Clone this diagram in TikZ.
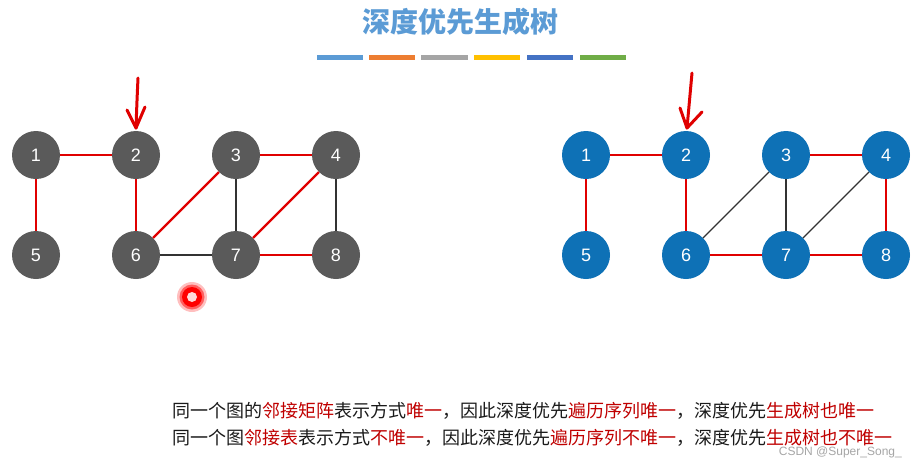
\documentclass[tikz,border=0pt]{standalone}
\usepackage{fontspec}
\setmainfont{Liberation Sans}
\newfontfamily\cjk{Noto Sans CJK SC}
\begin{document}
\begin{tikzpicture}[x=1pt,y=-1pt,
  gnode/.style={circle,minimum size=48pt,inner sep=0pt,text=white,font=\fontsize{18}{18}\selectfont},
  lnode/.style={gnode,fill=nodegray},
  rnode/.style={gnode,fill=nodeblue},
  tree/.style={draw=edgered,line width=2.2pt},
  other/.style={draw=edgeblack,line width=1.1pt},
  bar/.style={line width=5pt},
  hand/.style={draw=edgered,line width=3pt,line cap=round,line join=round},
  txt/.style={font=\cjk\fontsize{18}{18}\selectfont,anchor=west,inner sep=0pt,text=textblack}]
\definecolor{nodegray}{HTML}{5A5A5A}
\definecolor{nodeblue}{HTML}{0E71B6}
\definecolor{edgered}{HTML}{E00000}
\definecolor{edgeblack}{HTML}{333333}
\definecolor{titleblue}{HTML}{5B9BD5}
\definecolor{textred}{HTML}{C00000}
\definecolor{textblack}{HTML}{1A1A1A}
\useasboundingbox[fill=white] (0,0) rectangle (921,469);
% title
\node[font=\cjk\bfseries\fontsize{28}{28}\selectfont,text=titleblue] (title) at (460,22) {深度优先生成树};
\draw[bar,draw=titleblue] (317,57) -- (363,57);
\draw[bar,draw={rgb,255:red,237;green,125;blue,49}] (369,57) -- (415,57);
\draw[bar,draw={rgb,255:red,165;green,165;blue,165}] (421,57) -- (468,57);
\draw[bar,draw={rgb,255:red,255;green,192;blue,0}] (474,57) -- (520,57);
\draw[bar,draw={rgb,255:red,68;green,114;blue,196}] (527,57) -- (573,57);
\draw[bar,draw={rgb,255:red,112;green,173;blue,71}] (580,57) -- (626,57);
% left graph
\node[lnode] (l1) at (36,155) {1};
\node[lnode] (l2) at (136,155) {2};
\node[lnode] (l3) at (236,155) {3};
\node[lnode] (l4) at (336,155) {4};
\node[lnode] (l5) at (36,255) {5};
\node[lnode] (l6) at (136,255) {6};
\node[lnode] (l7) at (236,255) {7};
\node[lnode] (l8) at (336,255) {8};
\draw[tree] (l1) -- (l2);
\draw[tree] (l1) -- (l5);
\draw[tree] (l2) -- (l6);
\draw[tree] (l6) -- (l3);
\draw[tree] (l3) -- (l4);
\draw[tree] (l4) -- (l7);
\draw[tree] (l7) -- (l8);
\draw[other] (l3) -- (l7);
\draw[other] (l4) -- (l8);
\draw[other] (l6) -- (l7);
% right graph
\node[rnode] (r1) at (586,155) {1};
\node[rnode] (r2) at (686,155) {2};
\node[rnode] (r3) at (786,155) {3};
\node[rnode] (r4) at (886,155) {4};
\node[rnode] (r5) at (586,255) {5};
\node[rnode] (r6) at (686,255) {6};
\node[rnode] (r7) at (786,255) {7};
\node[rnode] (r8) at (886,255) {8};
\draw[tree] (r1) -- (r2);
\draw[tree] (r1) -- (r5);
\draw[tree] (r2) -- (r6);
\draw[tree] (r6) -- (r7);
\draw[tree] (r7) -- (r8);
\draw[tree] (r3) -- (r4);
\draw[tree] (r4) -- (r8);
\draw[other] (r6) -- (r3);
\draw[other] (r3) -- (r7);
\draw[other] (r4) -- (r7);
% hand drawn arrows
\coordinate (la) at (138,78);
\coordinate (lb) at (136,128);
\draw[hand] (la) .. controls (137,100) .. (lb);
\draw[hand] (127,110) -- (lb) -- (145,107);
\coordinate (ra) at (692,73);
\coordinate (rb) at (687,128);
\draw[hand] (ra) .. controls (690,100) .. (rb);
\draw[hand] (680,108) -- (rb) -- (702,112);
% cursor dot
\fill[red,opacity=0.25] (192,297) circle (15);
\fill[red,opacity=0.5] (192,297) circle (12.5);
\fill[red] (192,297) circle (10);
\fill[white!85!red] (192,297) circle (5);
% bottom texts
\node[txt] (line1) at (172,411) {同一个图的\textcolor{textred}{邻接矩阵}表示方式\textcolor{textred}{唯一}，因此深度优先\textcolor{textred}{遍历序列唯一}，深度优先\textcolor{textred}{生成树也唯一}};
\node[txt] (line2) at (172,438) {同一个图\textcolor{textred}{邻接表}表示方式\textcolor{textred}{不唯一}，因此深度优先\textcolor{textred}{遍历序列不唯一}，深度优先\textcolor{textred}{生成树也不唯一}};
\node[font=\fontsize{12}{12}\selectfont,text=gray!70,anchor=east,inner sep=0pt] (mark) at (902,452) {CSDN @Super\_Song\_};
\end{tikzpicture}
\end{document}
